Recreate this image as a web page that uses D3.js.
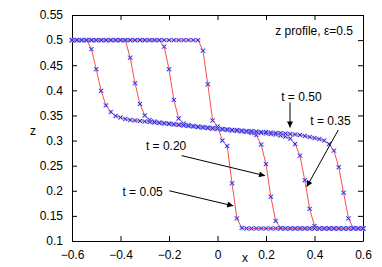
<!DOCTYPE html>
<html>
<head>
<meta charset="utf-8">
<script src="https://cdn.jsdelivr.net/npm/d3@7"></script>
<style>
  body { margin: 0; background: #fff; }
  svg text { font-family: "Liberation Sans", Arial, sans-serif; font-size: 12px; fill: #000; }
</style>
</head>
<body>
<svg id="chart"></svg>
<script>
// grid of x positions shared by every profile
const xs = [-0.60,-0.58,-0.56,-0.54,-0.52,-0.50,-0.48,-0.46,-0.44,-0.42,-0.40,-0.38,-0.36,-0.34,-0.32,-0.30,-0.28,-0.26,-0.24,-0.22,-0.20,-0.18,-0.16,-0.14,-0.12,-0.10,-0.08,-0.06,-0.04,-0.02,0.00,0.02,0.04,0.06,0.08,0.10,0.12,0.14,0.16,0.18,0.20,0.22,0.24,0.26,0.28,0.30,0.32,0.34,0.36,0.38,0.40,0.42,0.44,0.46,0.48,0.50,0.52,0.54,0.56,0.58,0.60]

const z05 = [0.5,0.5,0.5,0.5,0.5,0.5,0.5,0.5,0.5,0.5,0.5,0.5,0.5,0.5,0.5,0.5,0.5,0.5,0.5,0.5,0.5,0.5,0.5,0.5,0.5,0.5,0.5,
  0.479,0.412,0.340,0.328,0.300,0.289,0.215,0.145,0.126,
  0.125,0.125,0.125,0.125,0.125,0.125,0.125,0.125,0.125,0.125,0.125,0.125,0.125,0.125,0.125,0.125,0.125,0.125,0.125,0.125,0.125,0.125,0.125,0.125,0.125]

const z20 = [0.5,0.5,0.5,0.5,0.5,0.5,0.5,0.5,0.5,0.5,0.5,0.5,0.5,0.5,0.5,0.5,0.5,0.5,0.5,
  0.487,0.442,0.381,0.344,0.334,0.331,0.329,0.327,0.326,0.325,0.324,0.323,0.322,0.321,0.320,0.319,0.318,0.317,0.315,0.311,0.292,0.253,0.188,0.140,0.126,
  0.125,0.125,0.125,0.125,0.125,0.125,0.125,0.125,0.125,0.125,0.125,0.125,0.125,0.125,0.125,0.125,0.125]

const z35 = [0.5,0.5,0.5,0.5,0.5,0.5,0.5,0.5,0.5,0.5,0.5,0.5,
  0.465,0.414,0.373,0.350,0.341,0.338,0.336,0.335,0.334,0.333,0.332,0.331,0.330,0.329,0.328,0.327,0.326,0.325,0.324,0.323,0.322,0.321,0.320,0.319,0.318,0.317,0.316,0.315,0.314,0.313,0.312,0.310,0.308,0.304,0.293,0.270,0.221,0.164,0.130,
  0.125,0.125,0.125,0.125,0.125,0.125,0.125,0.125,0.125,0.125]

const z50 = [0.5,0.5,0.5,0.5,
  0.482,0.442,0.399,0.370,0.357,0.349,0.346,0.343,0.341,0.340,0.339,0.338,0.337,0.336,0.335,0.334,0.333,0.332,0.331,0.330,0.329,0.328,0.327,0.326,0.325,0.324,0.324,0.323,0.322,0.321,0.321,0.320,0.319,0.319,0.318,0.317,0.317,0.316,0.315,0.315,0.314,0.313,0.312,0.311,0.309,0.307,0.305,0.303,0.300,0.293,0.280,0.247,0.196,0.145,0.126,
  0.125,0.125]

const profiles = [z05, z20, z35, z50]

const xTicks = [-0.6, -0.4, -0.2, 0, 0.2, 0.4, 0.6]
const yTicks = [0.1, 0.15, 0.2, 0.25, 0.3, 0.35, 0.4, 0.45, 0.5, 0.55]

// labels with arrows, in data coordinates: text anchor point, arrow start, arrow end
const labelText = ['t = 0.50', 't = 0.35', 't = 0.20', 't = 0.05']
const labelPos = [[0.346, 0.378], [0.466, 0.331], [-0.212, 0.281], [-0.309, 0.190]]
const arrowFrom = [[0.299, 0.376], [0.498, 0.321], [-0.148, 0.270], [-0.199, 0.200]]
const arrowTo = [[0.299, 0.326], [0.368, 0.208], [0.196, 0.230], [0.065, 0.170]]

let W = 382, H = 267
let svg = d3.select('#chart').attr('width', W).attr('height', H)

let x = d3.scaleLinear().domain([-0.6, 0.6]).range([72, 363])
let y = d3.scaleLinear().domain([0.1, 0.55]).range([241, 15])

svg.append('defs').append('marker')
    .attr('id', 'head')
    .attr('viewBox', '0 0 10 10')
    .attr('refX', 10).attr('refY', 5)
    .attr('markerWidth', 8).attr('markerHeight', 6)
    .attr('markerUnits', 'userSpaceOnUse')
    .attr('orient', 'auto')
    .append('path').attr('d', 'M0,0L10,5L0,10Z').attr('fill', '#000')

// axes with inward ticks on all four sides
let tick = 5
svg.append('g').attr('transform', `translate(0,${y(0.1)})`)
    .call(d3.axisBottom(x).tickValues(xTicks).tickSizeInner(-tick).tickSizeOuter(0).tickPadding(9).tickFormat(d3.format('')))
svg.append('g').attr('transform', `translate(0,${y(0.55)})`)
    .call(d3.axisTop(x).tickValues(xTicks).tickSizeInner(-tick).tickSizeOuter(0).tickFormat(''))
svg.append('g').attr('transform', `translate(${x(-0.6)},0)`)
    .call(d3.axisLeft(y).tickValues(yTicks).tickSizeInner(-tick).tickSizeOuter(0).tickPadding(9).tickFormat(d3.format('')))
svg.append('g').attr('transform', `translate(${x(0.6)},0)`)
    .call(d3.axisRight(y).tickValues(yTicks).tickSizeInner(-tick).tickSizeOuter(0).tickFormat(''))

svg.selectAll('.domain').attr('stroke', '#000')
svg.selectAll('.tick line').attr('stroke', '#000')
svg.selectAll('.tick text').attr('font-size', 12).attr('font-family', '"Liberation Sans", Arial, sans-serif').attr('fill', '#000')

svg.append('text').attr('x', 245).attr('y', 262).attr('text-anchor', 'middle').text('x')
svg.append('text').attr('x', 33).attr('y', 135).attr('text-anchor', 'middle').text('z')
svg.append('text').attr('x', 353).attr('y', 35).attr('text-anchor', 'end').text('z profile, \u03b5=0.5')

// profiles: red line with blue cross markers
let line = d3.line().x((d, i) => x(xs[i])).y(d => y(d))
let plotG = svg.append('g')
profiles.forEach(zs => {
    plotG.append('path').datum(zs)
        .attr('d', line)
        .attr('fill', 'none')
        .attr('stroke', '#ff4a4a')
        .attr('stroke-width', 1)
})
let s = 2
let cross = (cx, cy) => `M${cx - s},${cy - s}L${cx + s},${cy + s}M${cx - s},${cy + s}L${cx + s},${cy - s}`
profiles.forEach(zs => {
    let g = plotG.append('g')
    g.selectAll('.halo').data(zs).enter().append('path')
        .attr('d', (d, i) => cross(x(xs[i]), y(d)))
        .attr('stroke', '#9a9aff').attr('stroke-width', 2).attr('stroke-opacity', 0.6)
    g.selectAll('.mk').data(zs).enter().append('path')
        .attr('d', (d, i) => cross(x(xs[i]), y(d)))
        .attr('stroke', '#2828e0').attr('stroke-width', 1)
})

// annotations
labelText.forEach((t, i) => {
    svg.append('text')
        .attr('x', x(labelPos[i][0])).attr('y', y(labelPos[i][1]))
        .attr('text-anchor', 'middle').text(t)
    svg.append('line')
        .attr('x1', x(arrowFrom[i][0])).attr('y1', y(arrowFrom[i][1]))
        .attr('x2', x(arrowTo[i][0])).attr('y2', y(arrowTo[i][1]))
        .attr('stroke', '#000').attr('stroke-width', 1)
        .attr('marker-end', 'url(#head)')
})
</script>
</body>
</html>
